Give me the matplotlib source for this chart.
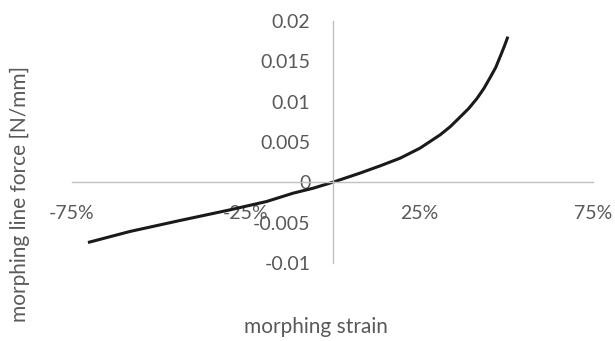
import matplotlib
matplotlib.use("Agg")
import matplotlib.pyplot as plt

strain = [-0.704, -0.584, -0.439, -0.295, -0.190, -0.113, -0.055, 0.0, 0.079,
          0.137, 0.195, 0.252, 0.310, 0.339, 0.367, 0.392, 0.416, 0.436, 0.454,
          0.470, 0.483, 0.495, 0.505]
force = [-0.00746, -0.00610, -0.00473, -0.00341, -0.00238, -0.00134, -0.00072, 0.0, 0.00114,
         0.00204, 0.00300, 0.00424, 0.00589, 0.00690, 0.00808, 0.00915, 0.01040, 0.01165, 0.01300,
         0.01425, 0.01561, 0.01690, 0.01806]

xticks = [-0.75, -0.25, 0.25, 0.75]
xticklabels = ["-75%", "-25%", "25%", "75%"]
yticks = [-0.01, -0.005, 0, 0.005, 0.01, 0.015, 0.02]
yticklabels = ["-0.01", "-0.005", "0", "0.005", "0.01", "0.015", "0.02"]

plt.rcParams['font.family'] = ['Lato', 'DejaVu Sans']
grey = '#595959'
axcol = '#BFBFBF'

fig = plt.figure(figsize=(6.15, 3.41), dpi=100)
ax = fig.add_axes([72/615, 1-263/341, (593-72)/615, (263-21)/341])
ax.plot(strain, force, color='#1a1a1a', lw=2.2, solid_capstyle='butt', solid_joinstyle='round')
ax.set_xlim(-0.75, 0.75)
ax.set_ylim(-0.01, 0.02)
for s in ['top', 'right']:
    ax.spines[s].set_visible(False)
ax.spines['left'].set_position(('data', 0))
ax.spines['bottom'].set_position(('data', 0))
for s in ['left', 'bottom']:
    ax.spines[s].set_color(axcol)
    ax.spines[s].set_linewidth(1.0)
ax.set_xticks(xticks)
ax.set_xticklabels(xticklabels)
ax.set_yticks(yticks)
ax.set_yticklabels(yticklabels)
ax.tick_params(axis='both', length=0, labelsize=14, labelcolor=grey)
ax.tick_params(axis='x', pad=16)
ax.tick_params(axis='y', pad=16)
ax.patch.set_visible(False)

fig.text(316/615, 1-327/341, "morphing strain", ha='center', va='center', fontsize=15, color=grey)
fig.text(20/615, 1-194/341, "morphing line force [N/mm]", ha='center', va='center', rotation=90,
         fontsize=15, color=grey)

fig.savefig("out.png", dpi=100)
